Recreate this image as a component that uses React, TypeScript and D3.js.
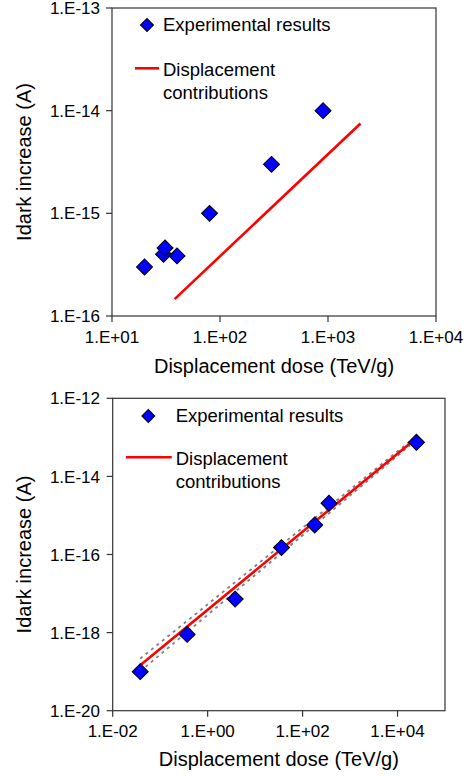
import React from "react";
import * as d3 from "d3";

// ---------- data ----------
const topXTicks = [1e1, 1e2, 1e3, 1e4];
const topYTicks = [1e-16, 1e-15, 1e-14, 1e-13];
const topDose = [20, 30, 31, 40, 80, 300, 900];
const topIdark = [3.0e-16, 4.0e-16, 4.6e-16, 3.85e-16, 1.0e-15, 3.0e-15, 1.0e-14];
const topDispDose = [38, 2000];
const topDispIdark = [1.46e-16, 7.5e-15];

const botXTicks = [1e-2, 1e0, 1e2, 1e4];
const botYTicks = [1e-20, 1e-18, 1e-16, 1e-14, 1e-12];
const botDose = [0.038, 0.37, 3.8, 36, 180, 360, 25000];
const botIdark = [1.0e-19, 9.0e-19, 7.2e-18, 1.5e-16, 5.7e-16, 2.05e-15, 7.5e-14];
const botDispDose = [0.038, 18500];
const botDispIdark = [1.46e-19, 7.1e-14];
const botUpperDose = [0.038, 18500];
const botUpperIdark = [2.15e-19, 8.0e-14];
const botLowerDose = [0.038, 18500];
const botLowerIdark = [1.02e-19, 6.3e-14];

const legendLabels = ["Experimental results", "Displacement", "contributions"];
const xTitle = "Displacement dose (TeV/g)";
const yTitle = "Idark increase (A)";

const FONT = "'Liberation Sans', Arial, Helvetica, sans-serif";

function fmt(v: number) {
  const e = Math.round(Math.log10(v));
  const s = e >= 0 ? "+" : "-";
  const a = Math.abs(e);
  return `1.E${s}${a < 10 ? "0" + a : a}`;
}

const bigDiamond = d3.symbol(d3.symbolSquare, 128)()!;
const smallDiamond = d3.symbol(d3.symbolSquare, 84)()!;

type PanelProps = {
  x0: number; x1: number; y0: number; y1: number;
  xDomain: [number, number]; yDomain: [number, number];
  xTicks: number[]; yTicks: number[];
  dose: number[]; idark: number[];
  dispDose: number[]; dispIdark: number[];
  bands?: { dose: number[]; idark: number[] }[];
  xLabelBase: number; xTitleBase: number;
  legend: { dx: number; dy: number; tx: number; ty: number; lx0: number; lx1: number; ly: number; t2: number; t3: number };
};

function Panel(p: PanelProps) {
  const x = d3.scaleLog().domain(p.xDomain).range([p.x0, p.x1]);
  const y = d3.scaleLog().domain(p.yDomain).range([p.y1, p.y0]);
  const line = d3.line<[number, number]>().x((d) => x(d[0])).y((d) => y(d[1]));
  const disp = line(p.dispDose.map((d, i) => [d, p.dispIdark[i]] as [number, number]))!;
  const cx = (p.x0 + p.x1) / 2;
  const cy = (p.y0 + p.y1) / 2;
  return (
    <g>
      <defs>
        <clipPath id={`clip${Math.round(p.y0)}`}>
          <rect x={p.x0} y={p.y0} width={p.x1 - p.x0} height={p.y1 - p.y0} />
        </clipPath>
      </defs>
      <rect x={p.x0} y={p.y0} width={p.x1 - p.x0} height={p.y1 - p.y0} fill="none" stroke="#333" strokeWidth={1.2} />
      {p.yTicks.map((t) => (
        <g key={"y" + t}>
          <line x1={p.x0 - 6} x2={p.x0} y1={y(t)} y2={y(t)} stroke="#333" strokeWidth={1.2} />
          <text x={100} y={y(t)} dy="0.36em" textAnchor="end" fontSize={17} fontFamily={FONT} fill="#000">{fmt(t)}</text>
        </g>
      ))}
      {p.xTicks.map((t) => (
        <g key={"x" + t}>
          <line x1={x(t)} x2={x(t)} y1={p.y1} y2={p.y1 + 6} stroke="#333" strokeWidth={1.2} />
          <text x={x(t)} y={p.xLabelBase} textAnchor="middle" fontSize={17} fontFamily={FONT} fill="#000">{fmt(t)}</text>
        </g>
      ))}
      <text x={cx} y={p.xTitleBase} textAnchor="middle" fontSize={20} fontFamily={FONT} fill="#000">{xTitle}</text>
      <text transform={`translate(31,${cy}) rotate(-90)`} textAnchor="middle" fontSize={20} fontFamily={FONT} fill="#000">{yTitle}</text>

      <g clipPath={`url(#clip${Math.round(p.y0)})`}>
        {(p.bands || []).map((b, i) => (
          <path key={"b" + i} d={line(b.dose.map((d, j) => [d, b.idark[j]] as [number, number]))!} fill="none" stroke="#7f7f7f" strokeWidth={1.8} strokeDasharray="3,4" />
        ))}
        <path d={disp} fill="none" stroke="#ff0000" strokeWidth={2.6} />
        {p.dose.map((d, i) => (
          <path key={"p" + i} d={bigDiamond} transform={`translate(${x(d)},${y(p.idark[i])}) rotate(45)`} fill="#0000ff" stroke="#000" strokeWidth={1} />
        ))}
      </g>

      <path d={smallDiamond} transform={`translate(${p.legend.dx},${p.legend.dy}) rotate(45)`} fill="#0000ff" stroke="#000" strokeWidth={1} />
      <text x={p.legend.tx} y={p.legend.ty} fontSize={18.5} fontFamily={FONT} fill="#000">{legendLabels[0]}</text>
      <line x1={p.legend.lx0} x2={p.legend.lx1} y1={p.legend.ly} y2={p.legend.ly} stroke="#ff0000" strokeWidth={2.6} />
      <text x={p.legend.tx} y={p.legend.t2} fontSize={18.5} fontFamily={FONT} fill="#000">{legendLabels[1]}</text>
      <text x={p.legend.tx} y={p.legend.t3} fontSize={18.5} fontFamily={FONT} fill="#000">{legendLabels[2]}</text>
    </g>
  );
}

export default function App() {
  return (
    <svg width={475} height={776} style={{ position: "absolute", left: 0, top: 0, background: "#fff" }}>
      <rect width={475} height={776} fill="#fff" />
      <Panel
        x0={112} x1={436} y0={8} y1={316}
        xDomain={[1e1, 1e4]} yDomain={[1e-16, 1e-13]}
        xTicks={topXTicks} yTicks={topYTicks}
        dose={topDose} idark={topIdark}
        dispDose={topDispDose} dispIdark={topDispIdark}
        xLabelBase={343} xTitleBase={373}
        legend={{ dx: 147, dy: 25, tx: 163, ty: 31, lx0: 135, lx1: 159, ly: 68.3, t2: 75.7, t3: 99.3 }}
      />
      <Panel
        x0={112.7} x1={445} y0={398.3} y1={710.7}
        xDomain={[1e-2, 1e5]} yDomain={[1e-20, 1e-12]}
        xTicks={botXTicks} yTicks={botYTicks}
        dose={botDose} idark={botIdark}
        dispDose={botDispDose} dispIdark={botDispIdark}
        bands={[{ dose: botUpperDose, idark: botUpperIdark }, { dose: botLowerDose, idark: botLowerIdark }]}
        xLabelBase={736.7} xTitleBase={766}
        legend={{ dx: 148.3, dy: 416, tx: 175.7, ty: 422.3, lx0: 126, lx1: 171.7, ly: 457.3, t2: 465.3, t3: 488.3 }}
      />
    </svg>
  );
}
